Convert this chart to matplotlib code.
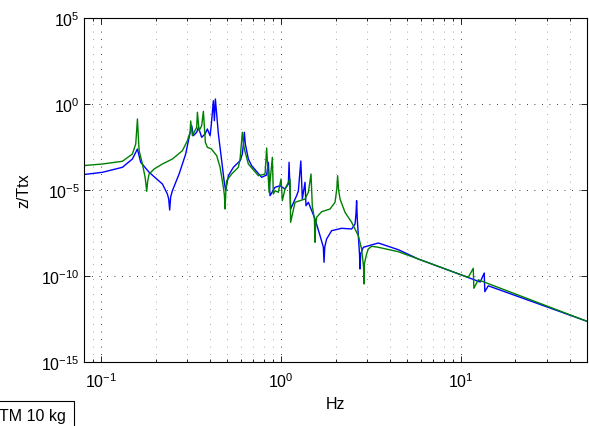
import matplotlib
matplotlib.use('Agg')
import matplotlib.pyplot as plt
import numpy as np
from matplotlib.ticker import LogLocator, NullLocator

# values (frequency in Hz, magnitude as log10)
green_freq = [0.0784, 0.1013, 0.1308, 0.1486, 0.1551, 0.1565, 0.1585, 0.1606, 0.1620, 0.1690,
              0.1749, 0.1767, 0.1785, 0.1808, 0.1841, 0.1963, 0.2182, 0.2480, 0.2818, 0.3005,
              0.3111, 0.3134, 0.3203, 0.3384, 0.3415, 0.3490, 0.3607, 0.3687, 0.3782, 0.3880,
              0.4084, 0.4372, 0.4565, 0.4763, 0.4824, 0.4867, 0.4916, 0.4968, 0.5296, 0.5769,
              0.5897, 0.5994, 0.6072, 0.6151, 0.6229, 0.6556, 0.7451, 0.8118, 0.8286, 0.8545,
              0.8913, 0.9028, 0.9226, 0.9623, 0.9962, 1.013, 1.048, 1.118, 1.126, 1.192,
              1.354, 1.413, 1.462, 1.486, 1.526, 1.531, 1.539, 1.549, 1.571, 1.675,
              1.865, 1.988, 2.033, 2.055, 2.079, 2.119, 2.259, 2.459, 2.678, 2.793,
              2.864, 2.880, 2.893, 2.978, 3.042, 3.175, 3.459, 4.467, 5.769, 10.94,
              11.66, 11.75, 12.43, 50.0]
green_logmag = [-3.587, -3.488, -3.331, -2.907, -2.326, -1.744, -0.872, -2.035, -2.715, -3.488,
                -4.262, -4.651, -5.076, -4.477, -4.070, -3.779, -3.488, -3.198, -2.715, -2.134,
                -1.645, -0.988, -1.843, -1.355, -0.483, -1.552, -1.262, -0.424, -2.227, -2.517,
                -2.616, -3.006, -3.680, -4.843, -5.291, -6.105, -5.058, -4.459, -4.070, -3.680,
                -3.198, -2.326, -1.645, -2.209, -2.616, -3.488, -4.169, -4.070, -2.558, -5.134,
                -3.099, -5.233, -5.041, -5.134, -4.360, -5.622, -4.942, -4.360, -6.878, -5.715,
                -5.523, -5.134, -4.070, -5.913, -6.686, -7.151, -8.041, -7.151, -6.587, -6.262,
                -6.105, -5.715, -4.942, -4.169, -4.942, -5.523, -6.297, -6.878, -7.657, -8.430,
                -9.477, -10.465, -9.302, -8.721, -8.430, -8.273, -8.331, -8.587, -9.012, -10.081,
                -9.552, -10.715, -10.221, -12.634]

blue_freq = [0.0784, 0.1013, 0.1308, 0.1486, 0.1585, 0.1653, 0.1841, 0.2182, 0.2326, 0.2365,
             0.2395, 0.2425, 0.2480, 0.2702, 0.2940, 0.3071, 0.3175, 0.3244, 0.3384, 0.3459,
             0.3607, 0.3768, 0.3880, 0.4017, 0.4084, 0.4190, 0.4244, 0.4299, 0.4467, 0.4660,
             0.4806, 0.4905, 0.5077, 0.5412, 0.5897, 0.6072, 0.6151, 0.6229, 0.6307, 0.6556,
             0.6839, 0.7774, 0.8286, 0.8469, 0.8654, 0.9226, 0.9835, 1.048, 1.094, 1.104,
             1.126, 1.216, 1.243, 1.283, 1.308, 1.354, 1.371, 1.413, 1.539, 1.641,
             1.711, 1.727, 1.743, 1.785, 1.903, 2.163, 2.459, 2.568, 2.600, 2.620,
             2.643, 2.719, 2.737, 2.758, 2.855, 3.459, 4.467, 5.769, 12.75, 13.42,
             13.52, 14.13, 50.0]
blue_logmag = [-4.110, -3.971, -3.680, -3.198, -2.616, -3.390, -3.971, -4.651, -5.233, -5.523,
               -6.163, -5.407, -5.041, -4.070, -2.907, -1.936, -1.262, -1.843, -1.645, -1.355,
               -1.936, -1.744, -1.453, -1.843, -1.163, 0.192, -0.971, 0.291, -1.744, -3.297,
               -4.459, -5.041, -4.169, -3.680, -3.297, -2.907, -2.326, -1.645, -2.326, -3.198,
               -3.587, -4.262, -4.128, -3.390, -5.331, -4.843, -4.750, -4.942, -4.651, -3.390,
               -6.105, -5.331, -5.058, -3.314, -5.523, -4.552, -5.913, -5.715, -6.686, -7.657,
               -8.314, -9.203, -8.314, -7.849, -7.366, -7.227, -7.267, -6.977, -6.395, -5.622,
               -6.686, -8.721, -9.593, -8.721, -8.331, -8.081, -8.471, -9.012, -10.349, -9.826,
               -10.913, -10.570, -12.634]

x_limits = (0.08, 50)
y_limits = (1e-15, 1e5)
y_ticks = [1e-15, 1e-10, 1e-5, 1e0, 1e5]


def main():
    plt.rcParams['font.family'] = ['Liberation Sans', 'DejaVu Sans']
    plt.rcParams['font.size'] = 11.5

    fig = plt.figure(figsize=(5.89, 4.27), dpi=100)
    ax = fig.add_axes([84 / 589, 1 - 363 / 427, 503 / 589, 344 / 427])

    ax.loglog(blue_freq, 10 ** np.array(blue_logmag), color='#0000ff', lw=1.0, label='TM 10 kg')
    ax.loglog(green_freq, 10 ** np.array(green_logmag), color='#008000', lw=1.0)

    ax.set_xlim(*x_limits)
    ax.set_ylim(*y_limits)
    ax.set_yticks(y_ticks)
    ax.yaxis.set_minor_locator(NullLocator())
    ax.xaxis.set_minor_locator(LogLocator(base=10, subs=np.arange(2, 10), numticks=20))

    ax.grid(True, which='major', axis='both', color='black', lw=0.6, linestyle=(0, (1, 8)))
    ax.grid(True, which='minor', axis='x', color='#888888', lw=0.6, linestyle=(0, (1, 8)))

    ax.tick_params(which='both', direction='in', top=True, right=True, width=0.6)
    ax.tick_params(which='major', length=4)
    ax.tick_params(which='minor', length=2)
    ax.tick_params(axis='x', which='major', pad=7)
    ax.tick_params(axis='y', which='major', pad=3)
    for s in ax.spines.values():
        s.set_linewidth(0.8)

    ax.set_xlabel('Hz')
    ax.set_ylabel('z/Ttx')
    ax.xaxis.set_label_coords(0.5, -0.1)
    ax.yaxis.set_label_coords(-0.105, 0.5)

    leg = ax.legend(loc='upper right', bbox_to_anchor=(74 / 589, 1 - 401.5 / 427),
                    bbox_transform=fig.transFigure, fancybox=False, framealpha=1,
                    edgecolor='black', borderpad=0.5, borderaxespad=0)
    leg.get_frame().set_linewidth(0.8)

    fig.savefig('out.png', dpi=100)


if __name__ == '__main__':
    main()
